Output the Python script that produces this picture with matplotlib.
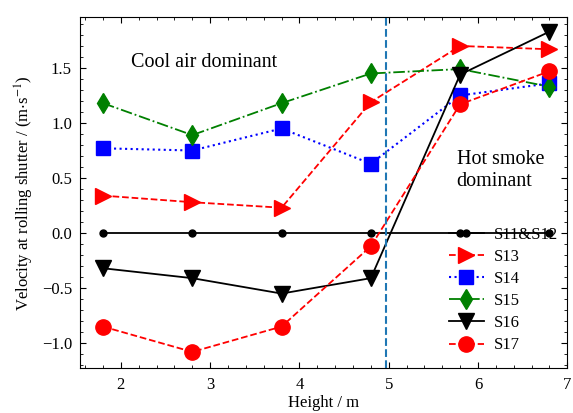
import numpy as np
import matplotlib
matplotlib.use("Agg")
import matplotlib.pyplot as plt

plt.rcParams['font.family'] = ['Liberation Serif', 'DejaVu Serif']
plt.rcParams['mathtext.fontset'] = 'stix'
plt.rcParams['font.size'] = 12

# heights of the measuring points (m)
height = [1.8, 2.8, 3.8, 4.8, 5.8, 6.8]

s11_s12 = [0.0, 0.0, 0.0, 0.0, 0.0, 0.0]
s13 = [0.34, 0.28, 0.23, 1.19, 1.70, 1.67]
s14 = [0.77, 0.75, 0.95, 0.63, 1.25, 1.36]
s15 = [1.18, 0.89, 1.18, 1.45, 1.49, 1.33]
s16 = [-0.32, -0.41, -0.55, -0.41, 1.44, 1.83]
s17 = [-0.85, -1.08, -0.85, -0.12, 1.17, 1.47]

boundary = 4.97

fig, ax = plt.subplots(figsize=(5.73, 4.13), dpi=100)
fig.subplots_adjust(left=0.14, right=0.99, top=0.958, bottom=0.108)

ax.plot(height, s11_s12, 'k-', marker='o', ms=5, lw=1.3, label='S11&S12')
ax.plot(height, s13, color='red', ls='--', marker='>', ms=11, lw=1.3, label='S13')
ax.plot(height, s14, color='blue', ls=':', marker='s', ms=10, lw=1.5, label='S14')
ax.plot(height, s15, color='green', ls='-.', marker='d', ms=10.5, lw=1.3, label='S15')
ax.plot(height, s16, 'k-', marker='v', ms=11, lw=1.3, label='S16')
ax.plot(height, s17, color='red', ls='--', marker='o', ms=11, lw=1.3, label='S17')

ax.axvline(boundary, color='#1f77b4', ls='--', lw=1.5)

ax.text(2.93, 1.55, 'Cool air dominant', fontsize=14.5, ha='center', va='center')
ax.text(5.76, 0.57, 'Hot smoke\ndominant', fontsize=14.5, ha='left', va='center',
        linespacing=1.25)

ax.set_xlim(1.545, 7.0)
ax.set_ylim(-1.23, 1.96)
ax.set_xticks([2, 3, 4, 5, 6, 7])
ax.set_yticks([-1.0, -0.5, 0.0, 0.5, 1.0, 1.5])
ax.minorticks_on()
ax.tick_params(which='both', direction='in', top=True, right=True, pad=6)
ax.tick_params(which='major', length=4.5)
ax.tick_params(which='minor', length=2.5)

ax.set_xlabel('Height / m', labelpad=1.5)
ax.set_ylabel(r'Velocity at rolling shutter / (m$\cdot$s$^{-1}$)')

ax.legend(loc='lower right', bbox_to_anchor=(1.012, 0.0), frameon=False,
          handlelength=2.1, handletextpad=0.6, labelspacing=0.37, fontsize=12)

fig.savefig('out.png', dpi=100)
